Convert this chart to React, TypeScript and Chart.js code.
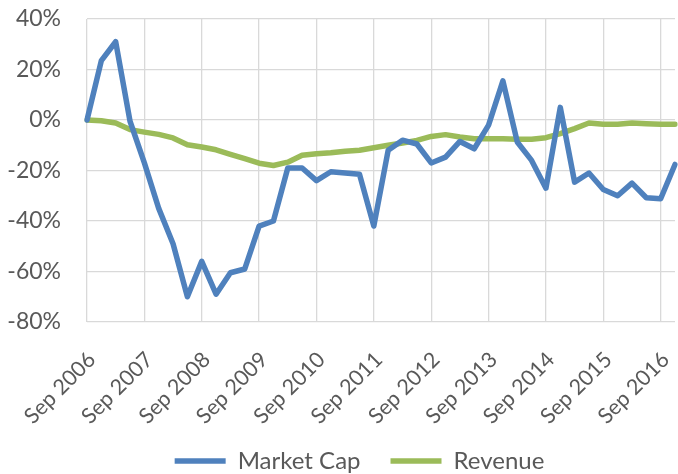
import React, { useEffect, useRef } from "react";
import { Chart, registerables } from "chart.js";

Chart.register(...registerables);

const quarters: string[] = [
  "Sep 2006", "Dec 2006", "Mar 2007", "Jun 2007",
  "Sep 2007", "Dec 2007", "Mar 2008", "Jun 2008",
  "Sep 2008", "Dec 2008", "Mar 2009", "Jun 2009",
  "Sep 2009", "Dec 2009", "Mar 2010", "Jun 2010",
  "Sep 2010", "Dec 2010", "Mar 2011", "Jun 2011",
  "Sep 2011", "Dec 2011", "Mar 2012", "Jun 2012",
  "Sep 2012", "Dec 2012", "Mar 2013", "Jun 2013",
  "Sep 2013", "Dec 2013", "Mar 2014", "Jun 2014",
  "Sep 2014", "Dec 2014", "Mar 2015", "Jun 2015",
  "Sep 2015", "Dec 2015", "Mar 2016", "Jun 2016",
  "Sep 2016", "Dec 2016",
];

const marketCap: number[] = [
  0, 23.5, 31, -0.5, -17, -35, -49, -70,
  -56, -69, -60.5, -59, -42, -40, -19, -19,
  -24, -20.5, -21, -21.5, -42, -12, -8, -9.5,
  -17, -14.7, -8.5, -11.4, -2, 15.5, -8.7, -16,
  -27, 5, -24.6, -21, -27.5, -30, -25, -30.8,
  -31.2, -17.6,
];

const revenue: number[] = [
  0, -0.3, -1.2, -3.8, -4.8, -5.7, -7.1, -9.8,
  -10.7, -11.8, -13.6, -15.3, -17.1, -18, -16.7, -14,
  -13.4, -13, -12.4, -12, -11, -10, -9.1, -8.1,
  -6.5, -5.8, -6.7, -7.4, -7.4, -7.4, -7.6, -7.6,
  -7, -5.4, -3.4, -1.2, -1.7, -1.7, -1.2, -1.5,
  -1.7, -1.7,
];

const yTicks: number[] = [40, 20, 0, -20, -40, -60, -80];

const FONT = "Lato, 'Noto Sans', sans-serif";
const TEXT = "#595959";
const GRID = "#d9d9d9";

const LEGEND_DX = 22;
const LEGEND_DY = 9;

const layoutTweak = {
  id: "layoutTweak",
  afterLayout(chart: any) {
    const lg = chart.legend;
    if (lg) {
      lg.left += LEGEND_DX;
      lg.right += LEGEND_DX;
      lg.top += LEGEND_DY;
      lg.bottom += LEGEND_DY;
    }
    const x = chart.scales.x;
    if (x) x.bottom = chart.height;
  },
};

export default function App() {
  const ref = useRef<HTMLCanvasElement | null>(null);

  useEffect(() => {
    document.body.style.margin = "0";
    if (!ref.current) return;
    const chart = new Chart(ref.current, {
      type: "line",
      data: {
        labels: quarters,
        datasets: [
          {
            label: "Market Cap",
            data: marketCap,
            borderColor: "#4f81bd",
            backgroundColor: "#4f81bd",
            borderWidth: 5.5,
            pointRadius: 0,
            tension: 0,
            borderJoinStyle: "round",
            borderCapStyle: "round",
          },
          {
            label: "Revenue",
            data: revenue,
            borderColor: "#9bbb59",
            backgroundColor: "#9bbb59",
            borderWidth: 5.5,
            pointRadius: 0,
            tension: 0,
            borderJoinStyle: "round",
            borderCapStyle: "round",
          },
        ],
      },
      plugins: [layoutTweak],
      options: {
        animation: false,
        responsive: false,
        maintainAspectRatio: false,
        layout: { padding: { top: 19, right: 3, left: 0, bottom: 0 } },
        plugins: {
          tooltip: { enabled: false },
          legend: {
            position: "bottom",
            labels: {
              usePointStyle: true,
              pointStyle: "line",
              pointStyleWidth: 51,
              boxHeight: 6,
              padding: 30,
              color: TEXT,
              font: { family: FONT, size: 24 },
            },
          },
        },
        scales: {
          x: {
            type: "category",
            offset: false,
            border: { display: false },
            grid: {
              color: (ctx: any) => (ctx.index % 4 === 0 ? GRID : "rgba(0,0,0,0)"),
              lineWidth: 1.3,
              drawTicks: false,
            },
            ticks: {
              autoSkip: false,
              minRotation: 45,
              maxRotation: 45,
              padding: 25,
              labelOffset: 5,
              color: TEXT,
              font: { family: FONT, size: 21.5 },
              callback: (_v: any, i: number) => (i % 4 === 0 ? quarters[i] : ""),
            },
            afterFit: (scale: any) => {
              scale.height = 88;
              scale.paddingRight = 0;
              scale.paddingLeft = 0;
            },
          },
          y: {
            min: -80,
            max: 40,
            border: { display: false },
            grid: { color: GRID, lineWidth: 1.3, drawTicks: false },
            afterBuildTicks: (scale: any) => {
              scale.ticks = yTicks.map((v) => ({ value: v }));
            },
            ticks: {
              padding: 26,
              color: TEXT,
              font: { family: FONT, size: 23 },
              callback: (v: any) => `${v}%`,
            },
            afterFit: (scale: any) => {
              scale.width = 87;
              scale.paddingTop = 0;
              scale.paddingBottom = 0;
            },
          },
        },
      },
    });
    return () => chart.destroy();
  }, []);

  return (
    <div style={{ width: 678, height: 474, background: "#fff" }}>
      <canvas ref={ref} width={678} height={474} style={{ display: "block" }} />
    </div>
  );
}
